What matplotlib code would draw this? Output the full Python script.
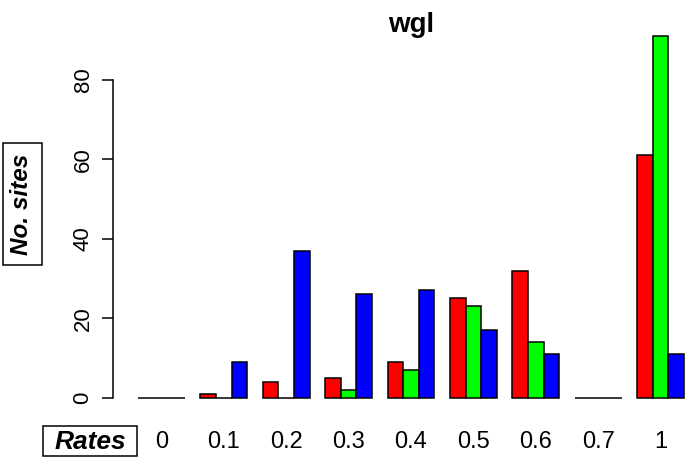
import matplotlib
matplotlib.use("Agg")
import matplotlib.pyplot as plt
from matplotlib.patches import Rectangle

# data
rates = ["0", "0.1", "0.2", "0.3", "0.4", "0.5", "0.6", "0.7", "1"]
red_vals = [0, 1, 4, 5, 9, 25, 32, 0, 61]
green_vals = [0, 0, 0, 2, 7, 23, 14, 0, 91]
blue_vals = [0, 9, 37, 26, 27, 17, 11, 0, 11]
series = [red_vals, green_vals, blue_vals]
colours = ["#FF0000", "#00FF00", "#0000FF"]

plt.rcParams["font.family"] = ["Liberation Sans", "DejaVu Sans"]

W, H = 687, 459
fig = plt.figure(figsize=(W / 100, H / 100), dpi=100)

# plot region in pixels (R-style barplot, region runs a bit past the right edge)
left, right, top, bottom = 113, 709, 22, 412
ax = fig.add_axes([left / W, 1 - bottom / H, (right - left) / W, (bottom - top) / H])

# R barplot(beside=TRUE): bars of width 1, one unit gap between groups
for j, (vals, col) in enumerate(zip(series, colours)):
    xs = [1 + 4 * i + j for i in range(len(rates))]
    ax.bar(xs, vals, width=1, align="edge", color=col,
           edgecolor="black", linewidth=1.1)

ax.set_xlim(-0.6, 37.6)
ax.set_ylim(-3.64, 94.64)

for s in ["top", "right", "bottom"]:
    ax.spines[s].set_visible(False)
ax.spines["left"].set_bounds(0, 80)
ax.spines["left"].set_linewidth(1.1)

ax.set_yticks([0, 20, 40, 60, 80])
ax.tick_params(axis="y", length=8, width=1.1, pad=6, labelsize=16)
for lab in ax.get_yticklabels():
    lab.set_rotation(90)
    lab.set_va("center")

ax.set_xticks([1 + 4 * i + 1.5 for i in range(len(rates))])
ax.set_xticklabels(rates)
ax.tick_params(axis="x", length=0, pad=14, labelsize=17)

fig.text((left + right) / 2 / W, 1 - 25 / H, "wgl", fontsize=20,
         fontweight="bold", ha="center", va="center")

# boxed axis labels
fig.patches.append(Rectangle((43 / W, 1 - 456 / H), 94 / W, 30 / H,
                             transform=fig.transFigure, fill=False,
                             edgecolor="black", linewidth=1.1))
fig.text(90 / W, 1 - 442 / H, "Rates", fontsize=19, fontweight="bold",
         fontstyle="italic", ha="center", va="center")

fig.patches.append(Rectangle((3 / W, 1 - 265 / H), 39 / W, 122 / H,
                             transform=fig.transFigure, fill=False,
                             edgecolor="black", linewidth=1.1))
fig.text(22 / W, 1 - 204 / H, "No. sites", fontsize=17.5, fontweight="bold",
         fontstyle="italic", rotation=90, ha="center", va="center")

fig.savefig("out.png", dpi=100)
